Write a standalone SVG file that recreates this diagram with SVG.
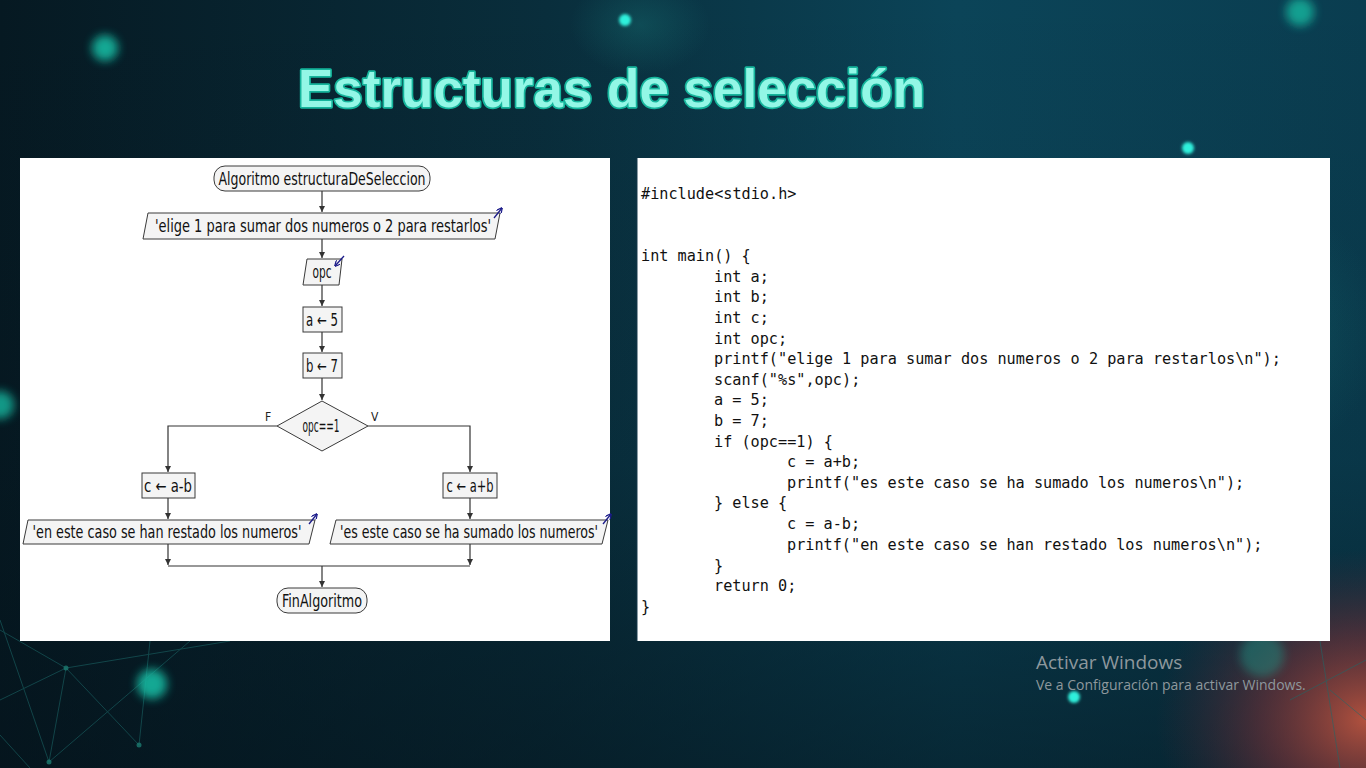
<svg xmlns="http://www.w3.org/2000/svg" width="1366" height="768" viewBox="0 0 1366 768">
  <defs>
    <linearGradient id="bgH" x1="0" y1="0" x2="1" y2="0">
      <stop offset="0" stop-color="#061922"/>
      <stop offset="0.4" stop-color="#092e3c"/>
      <stop offset="0.7" stop-color="#0b4458"/>
      <stop offset="1" stop-color="#0a3d50"/>
    </linearGradient>
    <linearGradient id="bgV" x1="0" y1="0" x2="0" y2="1">
      <stop offset="0" stop-color="#04121a" stop-opacity="0"/>
      <stop offset="0.6" stop-color="#04121a" stop-opacity="0.15"/>
      <stop offset="1" stop-color="#04121a" stop-opacity="0.55"/>
    </linearGradient>
    <radialGradient id="redGlow" cx="0.5" cy="0.5" r="0.5">
      <stop offset="0" stop-color="#c4563f" stop-opacity="0.9"/>
      <stop offset="0.5" stop-color="#8a3338" stop-opacity="0.5"/>
      <stop offset="1" stop-color="#5a2030" stop-opacity="0"/>
    </radialGradient>
    <radialGradient id="softTeal" cx="0.5" cy="0.5" r="0.5">
      <stop offset="0" stop-color="#1d8c88" stop-opacity="0.55"/>
      <stop offset="1" stop-color="#1d8c88" stop-opacity="0"/>
    </radialGradient>
    <filter id="blur6" x="-1" y="-1" width="3" height="3"><feGaussianBlur stdDeviation="5"/></filter>
    <filter id="blur2" x="-1" y="-1" width="3" height="3"><feGaussianBlur stdDeviation="1.5"/></filter>
    <marker id="arr" viewBox="0 0 10 10" refX="10" refY="5" markerWidth="6" markerHeight="6" orient="auto" markerUnits="userSpaceOnUse">
      <path d="M0,0 L10,5 L0,10 z" fill="#333"/>
    </marker>
    <marker id="io" viewBox="0 0 10 10" refX="9" refY="5" markerWidth="6" markerHeight="6" orient="auto" markerUnits="userSpaceOnUse">
      <path d="M0,0 L10,5 L0,10" fill="none" stroke="#1b1b8a" stroke-width="2"/>
    </marker>
    <style>
      .shape { fill: #f4f4f4; stroke: #3a3a3a; stroke-width: 1; }
      .ft { font-family: "DejaVu Sans Condensed", "DejaVu Sans", sans-serif; font-size: 17px; fill: #111; text-anchor: middle; }
      .lbl { font-family: "DejaVu Sans Condensed", "DejaVu Sans", sans-serif; font-size: 12px; fill: #222; }
      .conn { fill: none; stroke: #333; stroke-width: 1.2; }
      .ioarrow { fill: none; stroke: #1b1b8a; stroke-width: 1.3; }
      .code { font-family: "DejaVu Sans Mono", "Liberation Mono", monospace; font-size: 15.2px; fill: #111; }
      .wm { font-family: "Open Sans", "Noto Sans", sans-serif; fill: #8e989d; }
    </style>
  </defs>

  <!-- backdrop -->
  <rect width="1366" height="768" fill="url(#bgH)"/>
  <rect width="1366" height="768" fill="url(#bgV)"/>
  <ellipse cx="1366" cy="720" rx="210" ry="170" fill="url(#redGlow)"/>
  <ellipse cx="640" cy="25" rx="70" ry="50" fill="url(#softTeal)" opacity="0.5"/>
  <ellipse cx="1290" cy="330" rx="90" ry="120" fill="url(#softTeal)" opacity="0.35"/>

  <!-- network lines -->
  <g stroke="#1c6a6a" stroke-width="1" opacity="0.55" fill="none">
    <path d="M0,630 L66,668 L139,745"/>
    <path d="M0,700 L66,668 L230,641"/>
    <path d="M66,668 L49,762"/>
    <path d="M0,620 L49,762 L190,641"/>
    <path d="M139,745 L150,641"/>
    <path d="M0,735 L30,768"/>
    <path d="M1320,641 L1340,768"/>
    <path d="M1290,700 L1366,660"/>
    <path d="M1330,690 L1366,720"/>
  </g>
  <g fill="#1c7a70" opacity="0.8">
    <circle cx="66" cy="668" r="2.5"/>
    <circle cx="49" cy="762" r="2.5"/>
    <circle cx="139" cy="745" r="2.5"/>
  </g>

  <!-- glowing dots -->
  <g fill="#17b8a0">
    <circle cx="105" cy="48" r="13" filter="url(#blur6)" opacity="0.9"/>
    <circle cx="152" cy="684" r="15" filter="url(#blur6)" opacity="0.9"/>
    <circle cx="1300" cy="12" r="14" filter="url(#blur6)" opacity="0.8"/>
    <circle cx="0" cy="405" r="14" filter="url(#blur6)" opacity="0.8"/>
    <circle cx="1262" cy="655" r="22" filter="url(#blur6)" opacity="0.35"/>
  </g>
  <g fill="#2ff0dc">
    <circle cx="625" cy="20" r="6" filter="url(#blur2)"/>
    <circle cx="1188" cy="148" r="6" filter="url(#blur2)"/>
    <circle cx="1074" cy="697" r="6" filter="url(#blur2)"/>
  </g>

  <!-- heading -->
  <text x="298" y="107" textLength="627" lengthAdjust="spacingAndGlyphs" font-family="Liberation Sans, Arial, sans-serif" font-weight="bold" font-size="54" fill="#93f7e6" stroke="#15b59c" stroke-width="3.5" paint-order="stroke" stroke-linejoin="round">Estructuras de selección</text>

  <!-- flowchart panel -->
  <rect x="20" y="158" width="590" height="483" fill="#ffffff"/>

  <g id="connectors">
    <path class="conn" d="M322,191 V212" marker-end="url(#arr)"/>
    <path class="conn" d="M322,239 V258" marker-end="url(#arr)"/>
    <path class="conn" d="M322,285 V306" marker-end="url(#arr)"/>
    <path class="conn" d="M322,332 V352" marker-end="url(#arr)"/>
    <path class="conn" d="M322,378 V400" marker-end="url(#arr)"/>
    <path class="conn" d="M277,426 H168 V472" marker-end="url(#arr)"/>
    <path class="conn" d="M368,426 H470 V472" marker-end="url(#arr)"/>
    <path class="conn" d="M168,498 V519" marker-end="url(#arr)"/>
    <path class="conn" d="M470,498 V519" marker-end="url(#arr)"/>
    <path class="conn" d="M168,544 V565" marker-end="url(#arr)"/>
    <path class="conn" d="M470,544 V565" marker-end="url(#arr)"/>
    <path class="conn" d="M168,566 H470"/>
    <path class="conn" d="M322,566 V587" marker-end="url(#arr)"/>
    <text class="lbl" x="265" y="421">F</text>
    <text class="lbl" x="371" y="421">V</text>
  </g>

  <g id="start">
    <rect class="shape" x="214" y="166" width="216" height="25" rx="11"/>
    <text class="ft" x="322" y="185" textLength="207" lengthAdjust="spacingAndGlyphs">Algoritmo estructuraDeSeleccion</text>
  </g>

  <g id="prompt">
    <polygon class="shape" points="148,213 500,213 495,239 143,239"/>
    <text class="ft" x="323" y="232" textLength="336" lengthAdjust="spacingAndGlyphs">'elige 1 para sumar dos numeros o 2 para restarlos'</text>
    <path class="ioarrow" d="M494,218 L502,208" marker-end="url(#io)"/>
  </g>

  <g id="read-opc">
    <polygon class="shape" points="307,259 342,259 339,285 303,285"/>
    <text class="ft" x="322" y="278" textLength="19" lengthAdjust="spacingAndGlyphs">opc</text>
    <path class="ioarrow" d="M344,256 L335,266" marker-end="url(#io)"/>
  </g>

  <g id="assign-a">
    <rect class="shape" x="303" y="307" width="39" height="25"/>
    <text class="ft" x="322" y="326" textLength="32" lengthAdjust="spacingAndGlyphs">a ← 5</text>
  </g>

  <g id="assign-b">
    <rect class="shape" x="303" y="353" width="39" height="25"/>
    <text class="ft" x="322" y="372" textLength="32" lengthAdjust="spacingAndGlyphs">b ← 7</text>
  </g>

  <g id="decision">
    <polygon class="shape" points="322,401 368,426 322,451 277,426"/>
    <text class="ft" x="321" y="432" textLength="37" lengthAdjust="spacingAndGlyphs">opc==1</text>
  </g>

  <g id="subtract">
    <rect class="shape" x="142" y="473" width="53" height="25"/>
    <text class="ft" x="168" y="492" textLength="48" lengthAdjust="spacingAndGlyphs">c ← a-b</text>
  </g>

  <g id="add">
    <rect class="shape" x="443" y="473" width="54" height="25"/>
    <text class="ft" x="470" y="492" textLength="47" lengthAdjust="spacingAndGlyphs">c ← a+b</text>
  </g>

  <g id="print-rest">
    <polygon class="shape" points="28,520 315,520 309,544 23,544"/>
    <text class="ft" x="167" y="538" textLength="269" lengthAdjust="spacingAndGlyphs">'en este caso se han restado los numeros'</text>
    <path class="ioarrow" d="M309,524 L317,514" marker-end="url(#io)"/>
  </g>

  <g id="print-sum">
    <polygon class="shape" points="336,520 608,520 602,544 330,544"/>
    <text class="ft" x="469" y="538" textLength="258" lengthAdjust="spacingAndGlyphs">'es este caso se ha sumado los numeros'</text>
    <path class="ioarrow" d="M603,524 L611,514" marker-end="url(#io)"/>
  </g>

  <g id="end">
    <rect class="shape" x="277" y="588" width="90" height="25" rx="11"/>
    <text class="ft" x="322" y="607" textLength="80" lengthAdjust="spacingAndGlyphs">FinAlgoritmo</text>
  </g>

  <!-- source code panel -->
  <rect x="637" y="158" width="693" height="483" fill="#ffffff"/>
  <line x1="637" y1="158" x2="637" y2="641" stroke="#16384a" stroke-width="1"/>
  <g class="code">
    <text x="641" y="199">#include&lt;stdio.h&gt;</text>
    <text x="641" y="261">int main() {</text>
    <text x="714" y="282">int a;</text>
    <text x="714" y="302">int b;</text>
    <text x="714" y="323">int c;</text>
    <text x="714" y="344">int opc;</text>
    <text x="714" y="364">printf("elige 1 para sumar dos numeros o 2 para restarlos\n");</text>
    <text x="714" y="385">scanf("%s",opc);</text>
    <text x="714" y="405">a = 5;</text>
    <text x="714" y="426">b = 7;</text>
    <text x="714" y="447">if (opc==1) {</text>
    <text x="787" y="467">c = a+b;</text>
    <text x="787" y="488">printf("es este caso se ha sumado los numeros\n");</text>
    <text x="714" y="508">} else {</text>
    <text x="787" y="529">c = a-b;</text>
    <text x="787" y="550">printf("en este caso se han restado los numeros\n");</text>
    <text x="714" y="571">}</text>
    <text x="714" y="591">return 0;</text>
    <text x="641" y="612">}</text>
  </g>

  <!-- system watermark -->
  <text class="wm" x="1036" y="669" font-size="19">Activar Windows</text>
  <text class="wm" x="1036" y="690" font-size="14">Ve a Configuración para activar Windows.</text>
</svg>
